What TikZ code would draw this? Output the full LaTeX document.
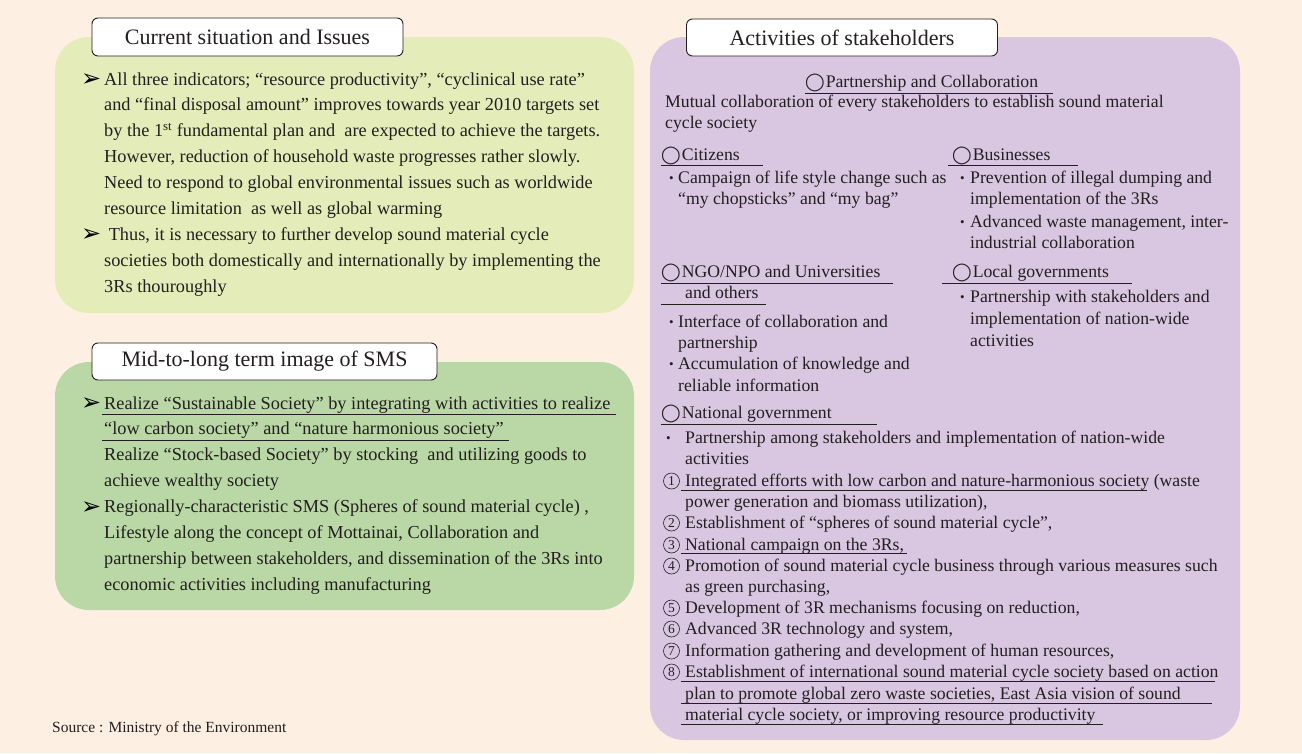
\documentclass[tikz,border=0pt]{standalone}
\usepackage{fontspec}
\setmainfont{Liberation Serif}
\newfontfamily\symfont{DejaVu Sans}

\definecolor{paper}{RGB}{253,240,226}
\definecolor{sage}{RGB}{228,236,186}
\definecolor{leaf}{RGB}{186,215,166}
\definecolor{lilac}{RGB}{217,199,226}
\definecolor{ink}{RGB}{35,31,32}

\newcommand\hollowring{{\symfont\fontsize{17.5}{17.5}\selectfont ◯}\kern1pt}
\newcommand\smallbullet{\raisebox{0.1ex}{\fontsize{13}{13}\selectfont •}}

\tikzset{
  panel/.style={rounded corners=34pt},
  titlebox/.style={draw=ink, line width=0.9pt, fill=white, rounded corners=6pt,
    inner sep=0pt, font=\fontsize{22}{24}\selectfont, text=ink},
  gtxt/.style={anchor=base west, inner sep=0pt, text=ink, font=\fontsize{18.3}{20}\selectfont},
  ptxt/.style={anchor=base west, inner sep=0pt, text=ink, font=\fontsize{17.7}{19}\selectfont},
  arrowhd/.style={anchor=base west, inner sep=0pt, text=black, font=\symfont\fontsize{24}{24}\selectfont},
  numring/.style={circle, draw=ink, line width=0.6pt, inner sep=0pt, minimum size=16pt,
    text=ink, font=\fontsize{13.5}{13.5}\selectfont},
  uline/.style={draw=ink, line width=0.8pt},
}

\begin{document}
\begin{tikzpicture}[x=1pt,y=-1pt]
\useasboundingbox (0,0) rectangle (1302,753);
\fill[paper] (0,0) rectangle (1302,753);

% coloured panels
\fill[sage, panel] (55,37) rectangle (634,313);
\fill[leaf, panel] (55,362) rectangle (634,610);
\fill[lilac, panel] (650,37) rectangle (1240,740);

% panel titles
\node[titlebox, minimum width=311pt, minimum height=38pt] (tcur) at (247.5,37) {Current situation and Issues};
\node[titlebox, minimum width=345pt, minimum height=37pt] (tmid) at (264.5,361.5) {Mid-to-long term image of SMS};
\node[titlebox, minimum width=311pt, minimum height=37pt] (tact) at (842,37.5) {Activities of stakeholders};

% current situation and issues
\node[arrowhd] (cura) at (81,86.5) {➢};
\node[arrowhd] (curb) at (81,241.5) {➢};
\foreach \t [count=\i from 0] in {
  {All three indicators; “resource productivity”, “cyclinical use rate”},
  {and “final disposal amount” improves towards year 2010 targets set},
  {by the 1\textsuperscript{st} fundamental plan and\ \ are expected to achieve the targets.},
  {However, reduction of household waste progresses rather slowly.},
  {Need to respond to global environmental issues such as worldwide},
  {resource limitation\ \ as well as global warming},
  {\ Thus, it is necessary to further develop sound material cycle},
  {societies both domestically and internationally by implementing the},
  {3Rs thouroughly}}
  \node[gtxt] (cur\i) at (104,{85+25.9*\i}) {\t};

% mid-to-long term image
\node[arrowhd] (mida) at (81,410.5) {➢};
\node[arrowhd] (midb) at (81,514.5) {➢};
\foreach \t [count=\i from 0] in {
  {Realize “Sustainable Society” by integrating with activities to realize},
  {“low carbon society” and “nature harmonious society”},
  {Realize “Stock-based Society” by stocking\ \ and utilizing goods to},
  {achieve wealthy society},
  {Regionally-characteristic SMS (Spheres of sound material cycle) ,},
  {Lifestyle along the concept of Mottainai, Collaboration and},
  {partnership between stakeholders, and dissemination of the 3Rs into},
  {economic activities including manufacturing}}
  \node[gtxt] (mid\i) at (104,{409+25.9*\i}) {\t};
\draw[uline] (102,414) -- (616,414);
\draw[uline] (102,440) -- (509,440);

% stakeholders: headings
\node[ptxt] (hpart) at (805,87) {\hollowring Partnership and Collaboration};
\draw[uline] (805,93) -- (1053,93);
\foreach \x/\y/\t [count=\i] in {
  665/107/{Mutual collaboration of every stakeholders to establish sound material},
  665/128/{cycle society}}
  \node[ptxt] (mut\i) at (\x,\y) {\t};

\node[ptxt] (hcit) at (661,160) {\hollowring Citizens};
\draw[uline] (661,165) -- (763,165);
\node[ptxt] (hbus) at (952,160) {\hollowring Businesses};
\draw[uline] (948,165) -- (1078,165);
\node[ptxt] (hngo) at (661,277) {\hollowring NGO/NPO and Universities};
\draw[uline] (661,283) -- (893,283);
\node[ptxt] (hngob) at (685,298) {and others};
\draw[uline] (661,304) -- (766,304);
\node[ptxt] (hloc) at (952,277) {\hollowring Local governments};
\draw[uline] (942,283) -- (1132,283);
\node[ptxt] (hnat) at (661,418) {\hollowring National government};
\draw[uline] (661,424) -- (877,424);

% bullet marks
\foreach \x/\y [count=\i] in {669/183, 960/183, 960/227, 960/302, 669/327, 669/369, 666/443}
  \node[ptxt] (bul\i) at (\x,\y) {\smallbullet};

% bullet texts
\foreach \x/\y/\t [count=\i] in {
  678/183/{Campaign of life style change such as},
  678/204/{“my chopsticks” and “my bag”},
  970/183/{Prevention of illegal dumping and},
  970/204/{implementation of the 3Rs},
  970/227/{Advanced waste management, inter-},
  970/248/{industrial collaboration},
  970/302/{Partnership with stakeholders and},
  970/324/{implementation of nation-wide},
  970/346/{activities},
  678/327/{Interface of collaboration and},
  678/348/{partnership},
  678/369/{Accumulation of knowledge and},
  678/391/{reliable information},
  685/443/{Partnership among stakeholders and implementation of nation-wide},
  685/464/{activities}}
  \node[ptxt] (btx\i) at (\x,\y) {\t};

% numbered measures of the national government
\foreach \y/\n [count=\i] in {481/1, 523/2, 545/3, 566/4, 608/5, 629/6, 651/7, 672/8}
  \node[numring] (num\i) at (671.5,\y) {\n};
\foreach \y/\t [count=\i] in {
  486/{Integrated efforts with low carbon and nature-harmonious society (waste},
  507/{power generation and biomass utilization),},
  528/{Establishment of “spheres of sound material cycle”,},
  550/{National campaign on the 3Rs,},
  571/{Promotion of sound material cycle business through various measures such},
  592/{as green purchasing,},
  613/{Development of 3R mechanisms focusing on reduction,},
  634/{Advanced 3R technology and system,},
  656/{Information gathering and development of human resources,},
  677/{Establishment of international sound material cycle society based on action},
  699/{plan to promote global zero waste societies, East Asia vision of sound},
  720/{material cycle society, or improving resource productivity}}
  \node[ptxt] (msr\i) at (685,\y) {\t};
\draw[uline] (681,490) -- (1147,490);
\draw[uline] (681,553) -- (907,553);
\draw[uline] (681,681) -- (1215,681);
\draw[uline] (681,703) -- (1212,703);
\draw[uline] (681,724) -- (1103,724);

% source note
\node[anchor=base west, inner sep=0pt, text=ink, font=\fontsize{15.5}{17}\selectfont] (src) at (52,732) {Source : Ministry of the Environment};
\end{tikzpicture}
\end{document}
